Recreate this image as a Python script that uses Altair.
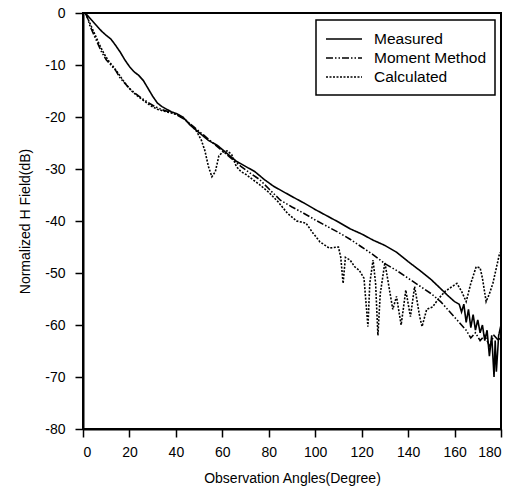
import altair as alt
import pandas as pd

# ---- data ----
meas_deg = [1, 2, 4, 6, 8, 10, 12, 14, 16, 18, 20, 22, 24, 26, 28, 30, 32, 34, 36, 38, 40,
            43, 46, 50, 54, 58, 62, 66, 70, 74, 78, 82, 86, 90, 95, 100, 105, 110, 115, 120,
            125, 130, 135, 140, 145, 150, 154, 157, 160, 162, 163, 164, 165, 166, 167, 168,
            169, 170, 171, 172, 173, 174, 175, 176, 177, 177.5, 178, 179, 180]
meas_db = [0, -0.5, -1.5, -2.5, -3.5, -4.3, -5, -6.2, -7.5, -9, -10.3, -11.3, -12, -13, -14.5,
           -16, -17.3, -18, -18.5, -19, -19.3, -20, -21.5, -23, -24.5, -25.5, -27, -28.5, -29.5,
           -30.5, -32, -33.3, -34.3, -35.3, -36.5, -37.8, -39, -40.2, -41.5, -42.5, -43.7, -44.7,
           -46, -47.8, -49.5, -51.3, -53, -54.3, -55.5, -56, -57.5, -56, -59.5, -57, -60.5, -58,
           -61, -59, -61.5, -60, -63, -61, -66, -62, -70, -63, -69, -62, -60]

mm_deg = [1, 2, 3, 4, 5, 6, 8, 10, 12, 14, 16, 18, 20, 22, 25, 28, 31, 34, 37, 40, 44, 48, 52,
          56, 60, 64, 68, 72, 76, 80, 85, 90, 95, 100, 105, 110, 115, 120, 125, 130, 135, 140,
          145, 150, 154, 157, 160, 163, 165, 167, 169, 171, 173, 175, 177, 179, 180]
mm_db = [0, -1, -2.5, -3.5, -4.5, -5.5, -7.5, -9, -10, -11, -12.5, -13.5, -14.5, -15.3, -16.3,
         -17.2, -18, -18.6, -19, -19.5, -20.5, -22, -23.5, -25, -26.5, -28, -29.5, -30.8, -32,
         -33.8, -36, -37.3, -38.5, -39.8, -41, -42.2, -43.5, -45, -46.5, -48.2, -49.5, -51,
         -52.5, -54, -55.5, -57, -58.5, -60, -61, -62.5, -61.5, -63, -62, -64, -62, -63, -62]

calc_deg = [1, 2, 3, 5, 7, 9, 11, 13, 15, 17, 19, 21, 23, 26, 29, 32, 35, 38, 41, 44, 47, 49,
            51, 52.5, 54, 55.5, 57, 58.5, 60, 62, 64, 66, 68, 70, 73, 76, 80, 84, 88, 92, 96,
            99, 102, 106, 110, 111, 112, 113, 115, 117, 119, 121, 122.7, 123.5, 124.9, 126, 127,
            128, 130, 132, 133.4, 135, 137, 139, 141, 142.8, 145, 146, 148, 150.6, 153, 156,
            159, 161, 163, 165, 167, 169.3, 171, 172, 173.6, 175, 176.5, 178, 179.4, 180]
calc_db = [0, -1, -2, -4, -6, -7.8, -9.2, -10.3, -11.5, -12.8, -14, -15, -15.8, -16.8, -17.8,
           -18.5, -18.9, -19.2, -19.6, -20.5, -21.8, -22.8, -24.5, -26.5, -29.5, -31.5, -30.5,
           -27.5, -26.8, -26.5, -27.2, -29.5, -30.5, -31, -32, -33, -34.5, -36.3, -38.5, -40,
           -40.4, -42.3, -44, -45.2, -45, -47, -52, -47, -47.5, -48.8, -49.5, -51, -60.3, -52,
           -47.5, -52, -62, -54, -48, -53.3, -57, -54.5, -60, -53.3, -58.4, -52.6, -58.4, -60.3,
           -57, -56.5, -55, -53.5, -52.6, -52, -53.5, -55.5, -52, -48.8, -49, -51, -55.5, -54,
           -52, -49, -46.2, -46]

series_names = ["Measured", "Moment Method", "Calculated"]

rows = []
for name, xs, ys in [(series_names[0], meas_deg, meas_db),
                     (series_names[1], mm_deg, mm_db),
                     (series_names[2], calc_deg, calc_db)]:
    for i, (a, b) in enumerate(zip(xs, ys)):
        rows.append({"series": name, "angle": a, "db": b, "idx": i})
df = pd.DataFrame(rows)

FONT = "Liberation Sans"

chart = alt.Chart(df).mark_line(color="black", strokeWidth=1.6).encode(
    x=alt.X("angle:Q",
            scale=alt.Scale(domain=[0, 180], nice=False),
            axis=alt.Axis(title="Observation Angles(Degree)", values=list(range(0, 181, 20)),
                          tickSize=8, labelPadding=8, titlePadding=12)),
    y=alt.Y("db:Q",
            scale=alt.Scale(domain=[-80, 0], nice=False),
            axis=alt.Axis(title="Normalized H Field(dB)", values=list(range(-80, 1, 10)),
                          labelExpr="'' + datum.value",
                          tickSize=8, labelPadding=10, titlePadding=12)),
    strokeDash=alt.StrokeDash(
        "series:N",
        scale=alt.Scale(domain=series_names,
                        range=[[1, 0], [7, 2, 1.5, 2, 1.5, 2], [2, 1.5]]),
        legend=alt.Legend(title=None, orient="none", legendX=233, legendY=7,
                          symbolType="M-1,0H3", symbolSize=324, symbolStrokeWidth=1.6,
                          symbolStrokeColor="black",
                          labelFontSize=15.5, labelFont=FONT, labelColor="black",
                          labelOffset=29, rowPadding=0,
                          strokeColor="black", padding=9)),
    order="idx:Q",
).properties(
    width=418,
    height=416,
    autosize=alt.AutoSizeParams(type="none"),
    padding={"left": 83, "top": 13, "right": 24, "bottom": 67},
).configure_view(
    stroke="black", strokeWidth=2
).configure_axis(
    grid=False,
    domainColor="black", domainWidth=2,
    tickColor="black", tickWidth=1.5,
    labelFont=FONT, labelFontSize=14, labelColor="black",
    titleFont=FONT, titleFontSize=14, titleColor="black", titleFontWeight="normal",
).configure_legend(
    strokeWidth=1.5
)

chart.save("out.html", embed_options={"renderer": "svg", "actions": False})
